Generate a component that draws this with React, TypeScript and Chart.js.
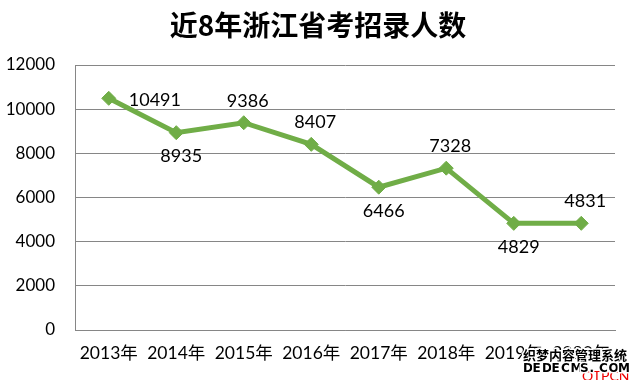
import React, { useEffect, useRef } from "react";
import { Chart, registerables } from "chart.js";

Chart.register(...registerables);

const title = "近8年浙江省考招录人数";
const categories = ["2013年", "2014年", "2015年", "2016年", "2017年", "2018年", "2019年", "2020年"];
const recruits = [10491, 8935, 9386, 8407, 6466, 7328, 4829, 4831];
const labelPlacement = ["right", "below", "above", "above", "below", "above", "below", "above"];
const yTicks = { min: 0, max: 12000, step: 2000 };

const NUM_FONT = "Lato, 'Noto Sans CJK SC', sans-serif";

const labelPlugin = {
  id: "valueLabels",
  afterDatasetsDraw(chart: any) {
    const ctx = chart.ctx;
    const meta = chart.getDatasetMeta(0);
    ctx.save();
    ctx.font = `18px ${NUM_FONT}`;
    ctx.fillStyle = "#000";
    ctx.textBaseline = "middle";
    meta.data.forEach((pt: any, i: number) => {
      const text = String(recruits[i]);
      const place = labelPlacement[i];
      if (place === "right") {
        ctx.textAlign = "left";
        ctx.fillText(text, pt.x + 20, pt.y + 2);
      } else if (place === "above") {
        ctx.textAlign = "center";
        ctx.fillText(text, pt.x + 4, pt.y - 22);
      } else {
        ctx.textAlign = "center";
        ctx.fillText(text, pt.x + 5, pt.y + 24);
      }
    });
    ctx.restore();
  },
};

const titlePlugin = {
  id: "customTitle",
  afterDraw(chart: any) {
    const ctx = chart.ctx;
    ctx.save();
    ctx.font = `bold 28px 'Noto Sans CJK SC', sans-serif`;
    ctx.fillStyle = "#000";
    ctx.textAlign = "center";
    ctx.textBaseline = "middle";
    ctx.fillText(title, 318, 25);
    ctx.restore();
  },
};

const watermarkPlugin = {
  id: "watermark",
  afterDraw(chart: any) {
    const ctx = chart.ctx;
    ctx.save();
    ctx.textBaseline = "middle";
    ctx.textAlign = "left";
    ctx.fillStyle = "#e00";
    ctx.font = `14px ${NUM_FONT}`;
    ctx.fillText("OTPCN", 582, 376);
    ctx.font = `bold 13px 'Noto Sans CJK SC', sans-serif`;
    ctx.lineWidth = 3;
    ctx.strokeStyle = "#fff";
    ctx.strokeText("织梦内容管理系统", 523, 355);
    ctx.fillStyle = "#000";
    ctx.fillText("织梦内容管理系统", 523, 355);
    ctx.font = `bold 12px 'DejaVu Sans', sans-serif`;
    const s = "DEDECMS.COM";
    let x = 523;
    for (const ch of s) {
      ctx.strokeText(ch, x, 369);
      ctx.fillText(ch, x, 369);
      x += 9.5;
    }
    ctx.restore();
  },
};

export default function App() {
  const ref = useRef<HTMLCanvasElement | null>(null);
  useEffect(() => {
    document.body.style.margin = "0";
    const canvas = ref.current;
    if (!canvas) return;
    const chart = new Chart(canvas, {
      type: "line",
      data: {
        labels: categories,
        datasets: [
          {
            data: recruits,
            borderColor: "#70AD47",
            backgroundColor: "#70AD47",
            borderWidth: 5,
            pointStyle: "rectRot",
            pointRadius: 7,
            pointHoverRadius: 7,
            pointBackgroundColor: "#70AD47",
            pointBorderColor: "#70AD47",
            pointBorderWidth: 1,
            tension: 0,
          },
        ],
      },
      options: {
        animation: false,
        responsive: false,
        devicePixelRatio: 1,
        layout: { padding: { top: 65, right: 21, left: 0, bottom: 0 } },
        plugins: {
          legend: { display: false },
          title: { display: false },
          tooltip: { enabled: false },
        },
        scales: {
          x: {
            offset: true,
            grid: { display: false, drawTicks: false },
            border: { display: true, color: "#868686", width: 1 },
            ticks: {
              color: "#000",
              padding: 13,
              maxRotation: 0,
              autoSkip: false,
              font: { family: NUM_FONT, size: 17.5 },
            },
            afterFit(scale: any) {
              scale.height = 50;
            },
          },
          y: {
            min: yTicks.min,
            max: yTicks.max,
            grid: { color: "#868686", lineWidth: 1, drawTicks: false },
            border: { display: true, color: "#868686", width: 1 },
            ticks: {
              stepSize: yTicks.step,
              color: "#000",
              padding: 20,
              font: { family: NUM_FONT, size: 17 },
              callback: (v: any) => String(v),
            },
            afterFit(scale: any) {
              scale.width = 75;
            },
          },
        },
      },
      plugins: [labelPlugin, titlePlugin, watermarkPlugin],
    });
    return () => chart.destroy();
  }, []);
  return <canvas ref={ref} width={636} height={380} style={{ display: "block", width: 636, height: 380 }} />;
}
